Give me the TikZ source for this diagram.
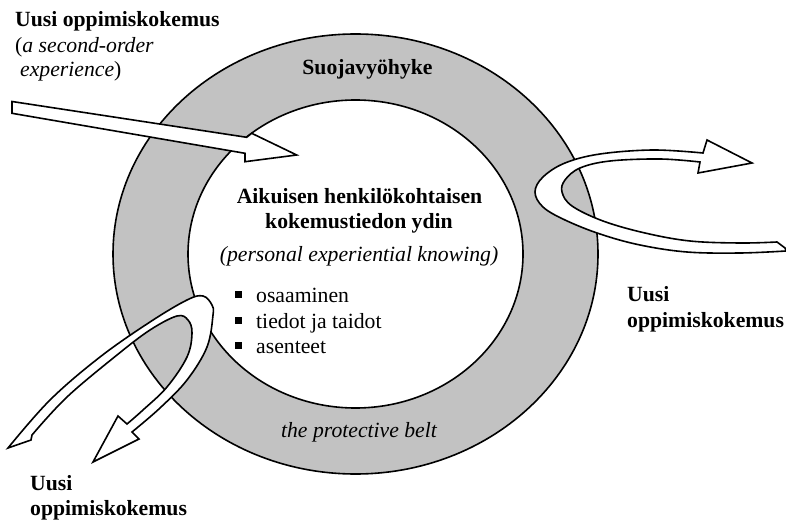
\documentclass[tikz,border=0pt]{standalone}
\usepackage{fontspec}
\setmainfont{Liberation Serif}
\definecolor{beltgray}{RGB}{194,194,194}
\tikzset{
  ring/.style={draw=black, line width=1.6pt},
  blockarrow/.style={draw=black, fill=white, line width=1.6pt, line join=miter},
  lbl/.style={inner sep=0pt, anchor=base west, font=\fontsize{21.7}{25}\selectfont},
  clbl/.style={lbl, anchor=base},
  curve/.style={smooth, tension=0.6}
}
\begin{document}
\begin{tikzpicture}[x=1pt, y=-1pt]
\useasboundingbox (0,0) rectangle (786,521);
\fill[white] (0,0) rectangle (786,521);

% protective belt and the core
\coordinate (centre) at (355.5,254);
\draw[ring, fill=beltgray] (centre) ellipse [x radius=242.5pt, y radius=220pt];
\draw[ring, fill=white] (centre) ellipse [x radius=167.5pt, y radius=154pt];

% straight arrow entering from the upper left
\draw[blockarrow] (12,101.5) -- (246.7,137.3) -- (251.7,133.3) -- (296.7,155)
  -- (245,161.7) -- (245,153.3) -- (12,113.3) -- cycle;

% curved arrow on the right
\draw[blockarrow] (752,163) -- (698,173) -- (700,162)
  -- plot[curve] coordinates {(700,162) (660,159) (610,161) (580,168) (565,180) (562,192)
       (572,206) (603,221) (645,233) (690,241) (740,243) (777,242)}
  -- (785,248)
  -- plot[curve] coordinates {(786,251) (740,253) (687,252) (640,245) (600,234) (565,220)
       (543,207) (535,192) (543,177) (565,163) (600,154) (653,150) (703,153)}
  -- (707,140) -- cycle;

% curved arrow on the lower left
\draw[blockarrow] (93,462) -- (118,416) -- (127,424)
  -- plot[curve] coordinates {(127,424) (143,410) (167,387) (187,357) (192,333) (188,320)
       (177,316) (150,330) (117,355) (67,397) (32,435)}
  -- (31,440) -- (8,448)
  -- plot[curve] coordinates {(8,448) (50,400) (100,357) (150,322) (187,300) (203,296)
       (212,305) (213,315) (207,347) (187,380) (160,408) (132,432)}
  -- (139,439) -- cycle;

% labels
\node[lbl] (newA1) at (15,27) {\bfseries Uusi oppimiskokemus};
\node[lbl] (newA2) at (15,53) {(\textit{a second-order}};
\node[lbl] (newA3) at (20,77) {\textit{experience})};

\node[clbl] (beltname) at (367.5,75) {\bfseries Suojavyöhyke};
\node[clbl] (core1) at (359.5,204) {\bfseries Aikuisen henkilökohtaisen};
\node[clbl] (core2) at (359,229) {\bfseries kokemustiedon ydin};
\node[clbl] (core3) at (359,261) {\itshape (personal experiential knowing)};

\node[lbl] (item1) at (235,302) {\rule[4pt]{7pt}{7pt}\hspace{14pt}osaaminen};
\node[lbl] (item2) at (235,328) {\rule[4pt]{7pt}{7pt}\hspace{14pt}tiedot ja taidot};
\node[lbl] (item3) at (235,353) {\rule[4pt]{7pt}{7pt}\hspace{14pt}asenteet};

\node[clbl] (beltname2) at (359,437) {\itshape the protective belt};

\node[lbl] (newB1) at (627,301) {\bfseries Uusi};
\node[lbl] (newB2) at (627,327) {\bfseries oppimiskokemus};

\node[lbl] (newC1) at (30,490) {\bfseries Uusi};
\node[lbl] (newC2) at (30,515) {\bfseries oppimiskokemus};
\end{tikzpicture}
\end{document}
